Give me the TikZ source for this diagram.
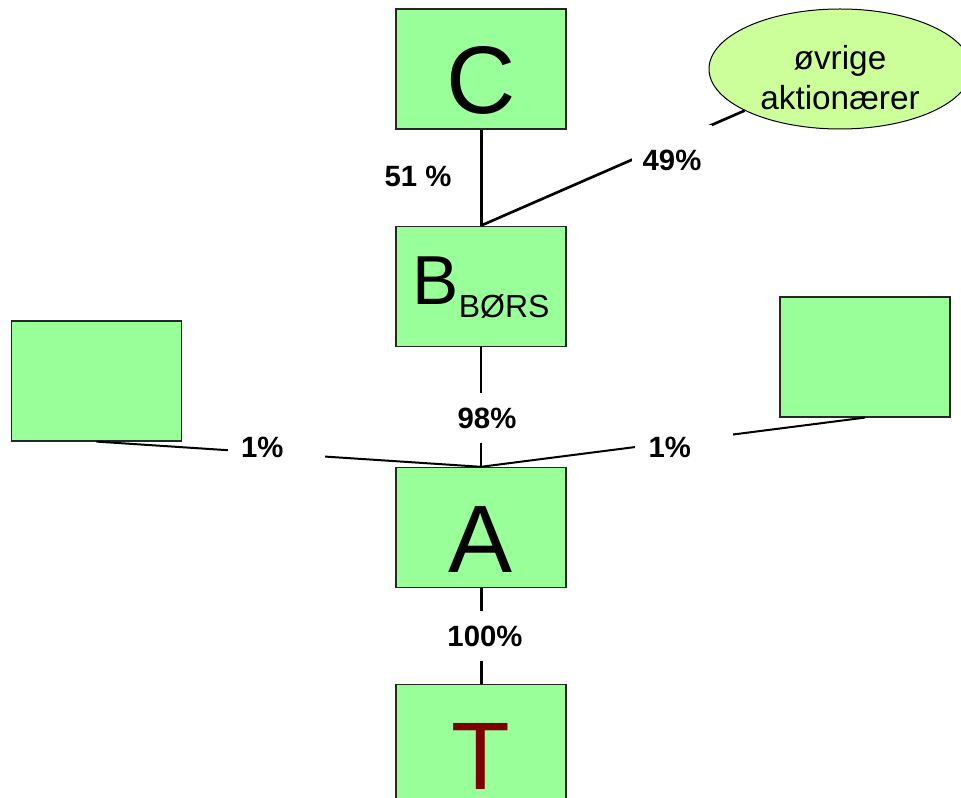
\documentclass[tikz,border=0pt]{standalone}
\usepackage{fontspec}
\setmainfont{Liberation Sans}
\usetikzlibrary{positioning,shapes.geometric}
\definecolor{boxgreen}{RGB}{153,255,153}
\definecolor{ovalgreen}{RGB}{204,255,153}
\definecolor{tred}{RGB}{128,0,0}

\begin{document}
\begin{tikzpicture}
[x=0.75pt,y=-0.75pt,
 firm/.style={draw=black!85,line width=0.9pt,fill=boxgreen,inner sep=0pt,
   minimum width=127.5pt,minimum height=90pt},
 big/.style={font=\fontsize{72}{72}\selectfont,text height=67pt,text depth=0pt},
 pct/.style={fill=white,inner sep=0pt,minimum width=72pt,minimum height=37.5pt,
   font=\bfseries\fontsize{22}{22}\selectfont},
 side/.style={pct,text width=73pt,align=left},
 tie/.style={line width=2.25pt}]
\useasboundingbox (0,0) rectangle (961,798);
\node[firm,big](C) at (481,69){C};
\node[firm,below=72pt of C,font=\fontsize{52}{52}\selectfont,
  text height=37.5pt,text depth=9.75pt](B)
  {B{\fontsize{24}{24}\selectfont\raisebox{-9.75pt}{BØRS}}};
\node[firm,big,below=90pt of B](A){A};
\node[firm,big,below=72pt of A,text=tred](T){T};
\node[firm](L) at (96.5,381){};
\node[firm](R) at (865,357){};
\node[ellipse,draw=black,line width=0.75pt,fill=ovalgreen,inner sep=0pt,
  minimum width=196.5pt,minimum height=90pt,align=center,
  font=\fontsize{25}{30}\selectfont](ov) at (840,69)
  {\rule{0pt}{31.5pt}øvrige\\aktionærer};
% ownership lines
\draw[tie] (C) -- (B);
\draw[line width=2pt] (B.north) -- (ov);
\draw[line width=0.9pt] (B) -- (A);
\draw[line width=1.5pt] (L.south) -- (A.north) -- (R.south);
\draw[tie] (A) -- (T);
% shares
\node[pct,fill=none](p51) at (418,176){51 \%};
\node[pct,minimum width=60pt,minimum height=52pt](p49) at (672,160){49\%};
\node[pct](p98) at (487,418){\raisebox{-4.5pt}{98\%}};
\node[side](pl) at (276.5,447){\hspace*{10pt}1\%};
\node[side](pr) at (684,447){\hspace*{10pt}1\%};
\node[pct](p100) at (485,636){\raisebox{-1.5pt}{100\%}};
\end{tikzpicture}
\end{document}
